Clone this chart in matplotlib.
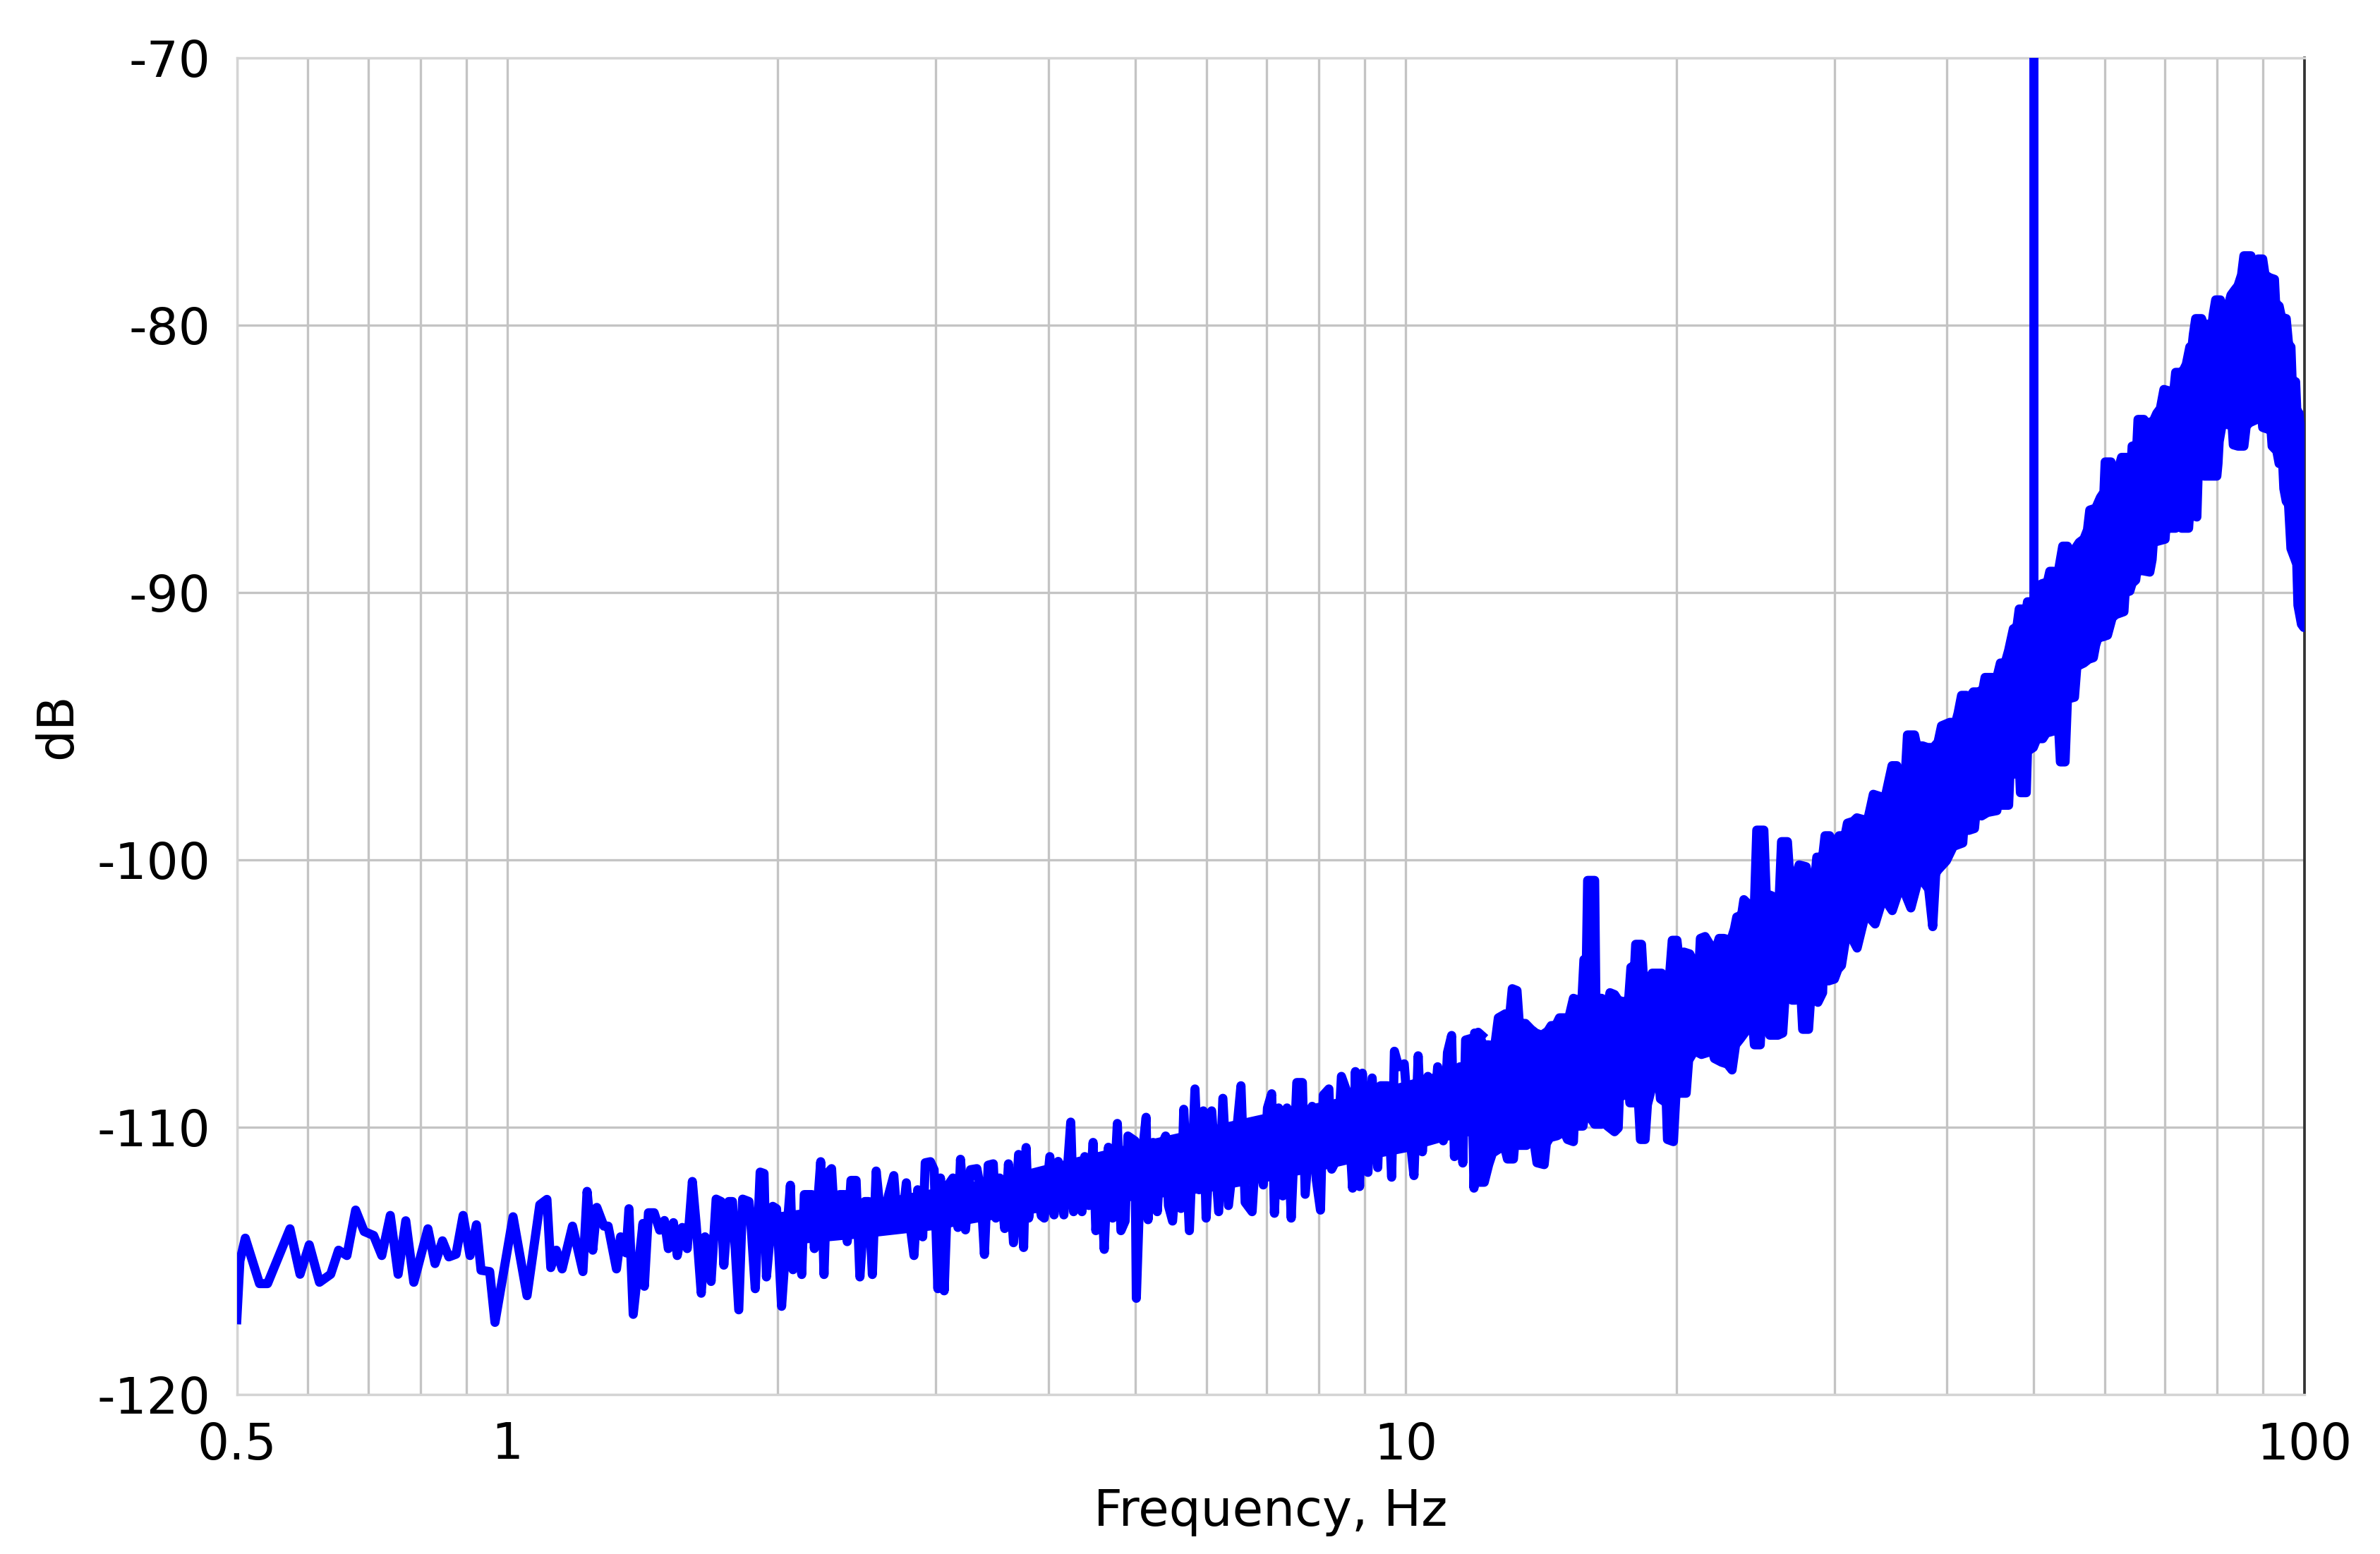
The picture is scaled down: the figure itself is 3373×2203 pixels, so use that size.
import numpy as np
import matplotlib
matplotlib.use("Agg")
import matplotlib.pyplot as plt

# ---------------- data ----------------
# low-frequency trace 0.5 - 1.5 Hz
trace_lo_freq = [0.500, 0.504, 0.511, 0.530, 0.541, 0.573, 0.588, 0.602, 0.618, 0.636,
                 0.649, 0.663, 0.678, 0.693, 0.710, 0.725, 0.741, 0.756, 0.771, 0.787,
                 0.816, 0.831, 0.847, 0.861, 0.877, 0.893, 0.909, 0.924, 0.935, 0.956,
                 0.969, 1.015, 1.052, 1.087, 1.107, 1.118, 1.134, 1.151, 1.182, 1.214,
                 1.227, 1.245, 1.258, 1.281, 1.295, 1.323, 1.337, 1.356, 1.366, 1.381,
                 1.416, 1.421, 1.436, 1.457, 1.478]
trace_lo_db = [-117.2, -115.0, -114.15, -115.85, -115.85, -113.8, -115.5, -114.4, -115.8, -115.5,
               -114.6, -114.8, -113.1, -113.9, -114.05, -114.8, -113.3, -115.5, -113.5, -115.8,
               -113.8, -115.1, -114.25, -114.85, -114.75, -113.3, -114.8, -113.65, -115.35, -115.4,
               -117.3, -113.35, -116.3, -112.9, -112.7, -115.25, -114.6, -115.3, -113.7, -115.4,
               -112.4, -114.6, -113.0, -113.7, -113.7, -115.3, -114.1, -114.7, -113.05, -117.0,
               -113.6, -115.95, -113.2, -113.2, -113.85]

# trace 1.5 - 4 Hz
trace_mid_freq = [1.496, 1.511, 1.531, 1.546, 1.566, 1.586, 1.607, 1.623, 1.644, 1.660,
                  1.676, 1.686, 1.708, 1.730, 1.742, 1.764, 1.781, 1.810, 1.828, 1.858,
                  1.870, 1.888, 1.912, 1.931, 1.943, 1.975, 1.994, 2.020, 2.047, 2.066,
                  2.080, 2.100, 2.127, 2.141, 2.183, 2.197, 2.233, 2.252, 2.270, 2.296,
                  2.314, 2.344, 2.374, 2.390, 2.413, 2.445, 2.469, 2.500, 2.525, 2.549,
                  2.574, 2.599, 2.624, 2.658, 2.693, 2.719, 2.746, 2.781, 2.799, 2.836,
                  2.863, 2.900, 2.919, 2.958, 2.986, 3.015, 3.035, 3.064, 3.094, 3.134,
                  3.174, 3.195, 3.236, 3.278, 3.332, 3.365, 3.397, 3.430, 3.475, 3.498,
                  3.532, 3.578, 3.613, 3.660, 3.708, 3.756, 3.780, 3.805, 3.842, 3.879,
                  3.930]
trace_mid_db = [-113.49, -114.54, -113.57, -114.80, -113.75, -114.54, -112.03, -113.66, -116.21, -114.10,
                -114.28, -115.77, -112.69, -112.78, -115.16, -112.78, -112.78, -116.83, -112.69, -112.78,
                -113.93, -116.04, -111.68, -111.73, -115.60, -112.96, -113.05, -116.70, -113.93, -112.17,
                -115.33, -113.31, -115.51, -112.52, -112.52, -114.54, -111.29, -115.51, -111.73, -111.55,
                -113.49, -112.52, -112.52, -114.28, -111.99, -111.99, -115.60, -112.78, -112.78, -115.51,
                -111.64, -113.05, -113.40, -112.52, -111.81, -113.66, -113.75, -112.08, -113.31, -114.80,
                -112.34, -114.10, -111.33, -111.29, -111.59, -116.04, -111.90, -116.12, -112.17, -111.90,
                -113.75, -111.20, -113.84, -111.59, -111.55, -112.34, -114.76, -111.42, -111.37, -113.40,
                -111.90, -113.79, -111.37, -114.32, -111.02, -114.50, -110.76, -113.40, -112.25, -112.21,
                -113.31]

# trace 4 - 12 Hz
trace_hi_freq = [3.960, 4.017, 4.061, 4.104, 4.164, 4.208, 4.238, 4.269, 4.315, 4.362,
                 4.393, 4.440, 4.488, 4.520, 4.569, 4.618, 4.668, 4.718, 4.776, 4.820,
                 4.872, 4.907, 4.996, 5.014, 5.068, 5.141, 5.167, 5.234, 5.290, 5.347,
                 5.405, 5.444, 5.502, 5.562, 5.622, 5.662, 5.744, 5.827, 5.889, 5.953,
                 5.996, 6.082, 6.192, 6.259, 6.349, 6.486, 6.556, 6.627, 6.746, 6.843,
                 6.942, 7.017, 7.093, 7.143, 7.220, 7.298, 7.377, 7.457, 7.565, 7.674,
                 7.729, 7.868, 7.953, 8.038, 8.096, 8.213, 8.272, 8.391, 8.481, 8.604,
                 8.728, 8.790, 8.885, 8.949, 9.078, 9.176, 9.308, 9.375, 9.543, 9.646,
                 9.715, 9.820, 9.962, 10.105, 10.214, 10.324, 10.436, 10.586, 10.700, 10.854,
                 11.011, 11.130, 11.249, 11.330, 11.493, 11.576, 11.659, 11.827, 11.912, 12.041,
                 12.153]
trace_hi_db = [-113.40, -111.10, -113.28, -111.28, -113.28, -111.28, -109.81, -113.16, -111.51, -113.16,
               -111.10, -112.93, -110.57, -113.87, -111.28, -114.57, -110.75, -113.40, -109.86, -113.87,
               -113.51, -110.33, -110.51, -116.40, -111.63, -109.63, -113.46, -110.57, -113.16, -110.69,
               -110.33, -112.93, -113.51, -111.39, -113.04, -109.33, -113.87, -108.57, -112.34, -109.39,
               -113.40, -109.39, -113.16, -108.92, -112.93, -110.10, -108.45, -112.81, -113.16, -109.75,
               -112.16, -109.28, -108.75, -113.22, -109.28, -112.57, -109.28, -113.40, -108.33, -108.33,
               -112.51, -109.22, -111.98, -113.10, -108.80, -108.57, -111.57, -111.16, -108.10, -108.69,
               -112.28, -107.92, -112.22, -107.98, -111.69, -108.16, -111.51, -108.45, -108.45, -111.87,
               -107.16, -107.74, -107.63, -110.33, -111.81, -107.33, -110.92, -108.10, -110.33, -107.74,
               -110.51, -107.21, -106.57, -111.10, -107.74, -111.34, -106.74, -106.68, -112.28, -106.45,
               -106.57]

# solid core of the noise band, 2 - 12 Hz
core_freq = [2.0, 2.5, 3.0, 3.5, 4.0, 5.0, 6.0, 7.0, 8.0, 9.0, 10.0, 11.0, 12.1]
core_top_db = [-113.2, -112.8, -112.3, -111.9, -111.4, -110.6, -110.0, -109.5, -109.1, -108.7, -108.3, -107.9, -107.4]
core_bottom_db = [-114.4, -114.1, -113.8, -113.4, -113.1, -112.7, -112.4, -112.0, -111.6, -111.2, -110.9, -110.5, -110.2]

# dense band 12 - 100 Hz: upper envelope
band_upper_freq = [11.93, 12.08, 12.19, 12.37, 12.56, 12.68, 12.91, 13.06, 13.14, 13.30,
                   13.38, 13.59, 13.79, 13.96, 14.17, 14.39, 14.52, 14.69, 14.83, 15.19,
                   15.37, 15.56, 15.70, 15.79, 15.89, 15.94, 16.23, 16.28, 16.52, 16.67,
                   16.88, 17.08, 17.24, 17.55, 17.71, 17.81, 17.98, 18.03, 18.30, 18.41,
                   18.64, 18.81, 19.03, 19.27, 19.38, 19.56, 19.68, 19.80, 20.04, 20.16,
                   20.40, 20.71, 20.90, 21.22, 21.28, 21.54, 21.80, 22.06, 22.33, 22.60,
                   23.01, 23.22, 23.36, 23.65, 23.79, 24.15, 24.44, 24.59, 25.04, 25.19,
                   25.57, 25.65, 26.04, 26.20, 26.60, 26.76, 27.16, 27.41, 27.91, 28.08,
                   28.51, 28.68, 29.11, 29.29, 29.64, 29.91,
                   30.37, 30.83, 31.02, 31.49, 31.78, 32.26, 32.65, 32.95, 33.15, 33.65,
                   34.16, 34.47, 34.78, 35.21, 35.31, 35.96, 36.18, 36.84, 37.06, 37.62,
                   38.08, 38.66, 39.13, 39.48, 40.33, 40.94, 41.19, 41.56, 42.07, 42.45,
                   42.83, 43.35, 43.88, 44.14, 44.81, 45.50, 45.91, 46.47, 46.89, 47.46,
                   47.89, 48.18, 48.62, 48.91, 49.21, 49.66, 50.71, 51.02, 51.79, 52.11,
                   52.58, 53.22, 53.86, 54.52, 54.85, 55.51, 56.19, 56.87, 57.39, 57.73,
                   58.61, 59.32, 59.86,
                   60.05, 60.96, 61.33, 61.70, 62.07, 62.63, 63.39, 63.78, 64.16, 64.35,
                   65.13, 65.33, 66.32, 66.72, 67.12, 67.94, 68.55, 69.18, 69.81, 70.87,
                   71.51, 71.94, 73.04, 73.48, 73.93, 74.60, 75.05, 75.28, 75.73, 76.88,
                   77.35, 78.99, 79.23, 79.71, 80.68, 80.92, 81.41, 82.40, 82.90, 83.65,
                   84.41, 85.18, 85.69, 87.26, 87.52, 88.31, 88.84, 89.92, 90.46, 91.56,
                   92.67, 92.95, 93.79, 94.36, 95.51, 96.08, 96.67, 96.96, 97.84, 98.13,
                   98.71, 99.31, 99.61, 99.91, 100.0]
band_upper_db = [-106.48, -106.56, -106.92, -106.92, -106.99, -105.91, -105.76, -105.76, -104.82, -104.89,
                 -106.12, -106.12, -106.34, -106.48, -106.56, -106.41, -106.20, -106.20, -105.91, -105.91,
                 -105.18, -105.25, -105.40, -103.73, -103.73, -100.77, -100.77, -105.18, -105.18, -105.91,
                 -104.97, -105.04, -105.25, -105.33, -105.18, -104.02, -103.95, -103.16, -103.16, -104.68,
                 -104.60, -104.24, -104.24, -104.24, -104.97, -104.75, -104.17, -103.01, -103.01, -103.81,
                 -103.45, -103.52, -103.81, -103.81, -102.94, -102.87, -103.16, -103.52, -102.94, -102.94,
                 -103.01, -102.58, -102.14, -102.07, -101.49, -101.71, -101.71, -98.89, -98.89, -101.27,
                 -101.35, -101.78, -101.49, -99.32, -99.32, -100.62, -100.62, -100.19, -100.26, -100.77,
                 -100.84, -99.90, -99.90, -99.10, -99.10, -99.47,
                 -99.10, -99.10, -98.63, -98.56, -98.43, -98.49, -98.56, -97.96, -97.55, -97.62,
                 -97.69, -97.08, -96.48, -96.48, -96.95, -96.95, -95.33, -95.33, -95.74, -95.74,
                 -95.80, -95.80, -95.60, -94.99, -94.86, -94.86, -94.52, -93.85, -93.85, -93.92,
                 -93.72, -93.72, -93.65, -93.18, -93.18, -93.18, -92.64, -92.64, -92.17, -91.36,
                 -91.29, -90.62, -90.62, -91.02, -90.35, -90.35, -90.08, -89.68, -89.61, -89.21,
                 -89.21, -89.28, -88.27, -88.27, -88.47, -88.40, -88.13, -88.00, -87.66, -86.92,
                 -86.85, -86.45, -86.25,
                 -85.12, -85.12, -86.42, -85.77, -85.42, -84.95, -84.95, -85.30, -85.30, -84.53,
                 -84.48, -83.53, -83.53, -83.95, -83.65, -83.59, -83.30, -83.12, -82.41, -82.47,
                 -82.65, -81.77, -81.77, -81.65, -81.47, -80.82, -80.77, -80.35, -79.76, -79.76,
                 -80.00, -79.94, -79.59, -79.06, -79.06, -79.41, -79.29, -79.23, -78.88, -78.70,
                 -78.53, -78.12, -77.41, -77.41, -78.23, -78.23, -77.53, -77.53, -78.12, -78.23,
                 -78.29, -79.18, -79.29, -79.71, -79.76, -80.71, -80.82, -82.06, -82.12, -83.18,
                 -83.30, -84.48, -84.48, -85.53, -85.65]

# dense band 12 - 100 Hz: lower envelope
band_lower_freq = [11.93, 12.08, 12.23, 12.37, 12.49, 12.68, 12.87, 12.98, 13.18, 13.30,
                   13.38, 13.63, 13.88, 14.00, 14.26, 14.34, 14.47, 14.74, 15.01, 15.14,
                   15.37, 15.42, 15.56, 15.75, 15.84, 16.03, 16.23, 16.52, 16.67, 16.77,
                   17.08, 17.24, 17.29, 17.50, 17.71, 17.76, 18.03, 18.14, 18.25, 18.47,
                   18.58, 18.86, 19.09, 19.21, 19.50, 19.56, 19.86, 20.04, 20.22, 20.52,
                   20.65, 20.96, 21.15, 21.34, 21.67, 21.80, 22.06, 22.47, 22.81, 23.08,
                   23.29, 23.57, 24.00, 24.37, 24.44, 24.81, 24.89, 25.27, 25.42, 25.96,
                   26.28, 26.44, 26.92, 27.16, 27.49, 27.66, 28.08, 28.25, 28.76, 29.11,
                   29.20, 29.55, 30.00, 30.27, 30.55,
                   31.0, 31.8, 32.5, 33.3, 34.0, 34.8, 35.6, 36.5, 37.3, 38.2, 38.6, 38.9,
                   39.13, 39.97, 40.69, 41.69, 41.81, 42.32, 42.96, 43.22, 43.75, 44.41,
                   45.50, 45.77, 46.05, 46.89, 47.03, 47.75, 48.18, 48.33, 49.06, 49.21,
                   49.95, 50.41, 51.17, 51.64, 52.42, 52.74, 53.22, 53.54, 54.19, 54.52,
                   55.51, 55.85, 56.87, 57.56, 58.26, 58.61, 58.96,
                   59.69, 60.41, 61.14, 61.70, 63.01, 63.20, 63.97, 64.35, 64.94, 65.13,
                   66.12, 67.33, 67.73, 67.94, 68.97, 70.02, 70.23, 70.87, 71.94, 72.38,
                   73.04, 74.37, 74.60, 75.05, 75.96, 76.19, 76.42, 77.35, 78.99, 79.95,
                   80.19, 80.43, 81.17, 81.90, 83.15, 83.40, 84.41, 85.69, 86.21, 86.99,
                   88.58, 89.11, 89.65, 89.92, 91.01, 91.84, 92.12, 93.23, 93.79, 94.65,
                   94.93, 95.51, 96.08, 96.67, 97.55, 98.13, 98.42, 99.31, 99.91]
band_lower_db = [-110.32, -112.06, -112.06, -111.40, -110.97, -110.83, -110.68, -111.19, -111.19, -109.60,
                 -110.68, -110.68, -110.46, -111.33, -111.40, -110.61, -110.39, -110.32, -110.17, -110.46,
                 -110.54, -109.45, -109.96, -109.96, -109.45, -109.60, -109.89, -109.89, -109.52, -109.96,
                 -110.17, -110.03, -108.87, -108.80, -108.44, -109.09, -109.09, -108.80, -110.46, -110.46,
                 -109.16, -108.29, -107.93, -108.94, -109.09, -110.46, -110.54, -108.08, -108.73, -108.73,
                 -107.50, -107.14, -107.21, -107.28, -107.21, -106.77, -107.43, -107.57, -107.64, -107.86,
                 -106.92, -106.70, -106.34, -106.41, -106.92, -106.92, -105.91, -105.76, -106.56, -106.56,
                 -106.48, -105.11, -105.25, -105.25, -104.60, -106.34, -106.34, -105.04, -105.33, -104.97,
                 -103.37, -104.53, -104.46, -104.10, -103.95,
                 -102.6, -103.3, -102.0, -102.4, -101.4, -101.9, -100.9, -101.8, -100.6, -101.1, -102.5, -100.5,
                 -100.38, -100.04, -99.50, -99.37, -98.76, -98.90, -98.83, -97.89, -98.36, -98.23,
                 -98.16, -97.28, -97.96, -97.96, -96.88, -96.74, -96.41, -97.49, -97.49, -95.94,
                 -95.80, -95.47, -95.47, -95.26, -95.20, -94.39, -94.66, -96.34, -96.34, -93.99,
                 -93.92, -92.77, -92.64, -92.50, -92.44, -91.97, -91.70,
                 -91.66, -91.60, -90.95, -90.83, -90.72, -90.01, -89.95, -89.66, -89.54, -89.19,
                 -89.19, -89.24, -88.77, -88.13, -88.07, -88.01, -87.36, -87.60, -87.60, -86.65,
                 -87.60, -87.60, -86.89, -87.12, -87.18, -85.71, -85.36, -85.65, -85.65, -85.65,
                 -85.18, -84.36, -83.59, -83.71, -83.77, -84.48, -84.53, -84.53, -83.77, -83.65,
                 -83.53, -83.30, -83.30, -83.83, -83.89, -83.89, -84.53, -84.71, -85.18, -85.18,
                 -86.12, -86.59, -86.71, -88.36, -88.71, -88.95, -90.48, -91.19, -91.31]

# 50 Hz line (top clipped by the axes)
spike_freq = [50.0, 50.0]
spike_db = [-90.3, -66.0]

x_ticks = [0.5, 1, 10, 100]
x_tick_labels = ["0.5", "1", "10", "100"]
y_ticks = [-120, -110, -100, -90, -80, -70]
y_tick_labels = ["-120", "-110", "-100", "-90", "-80", "-70"]

# ---------------- figure ----------------
BLUE = "#0000ff"
LW = 3.1
W, H, DPI = 3373, 2203, 300
fig = plt.figure(figsize=(W / DPI, H / DPI), dpi=DPI)
ax = fig.add_axes([335.6 / W, 1 - 1977 / H, (3265.5 - 335.6) / W, (1977 - 81.7) / H])

ax.set_xscale("log")
ax.set_xlim(0.5, 100)
ax.set_ylim(-120, -70)

minor_locs = [0.6, 0.7, 0.8, 0.9] + list(range(2, 10)) + list(range(20, 100, 10))
ax.set_xticks(x_ticks)
ax.set_xticklabels(x_tick_labels)
ax.set_xticks(minor_locs, minor=True)
ax.set_xticklabels([""] * len(minor_locs), minor=True)
ax.set_yticks(y_ticks)
ax.set_yticklabels(y_tick_labels)

ax.set_axisbelow(True)
ax.grid(True, which="both", color="#c4c4c4", linewidth=0.8)
ax.tick_params(which="both", length=0, labelsize=17, pad=9)

for side in ("top", "left", "bottom"):
    ax.spines[side].set_color("#d4d4d4")
    ax.spines[side].set_linewidth(0.8)
ax.spines["right"].set_color("#333333")
ax.spines["right"].set_linewidth(0.9)

# solid core of the band 2 - 12 Hz
ax.fill_between(core_freq, core_bottom_db, core_top_db, facecolor=BLUE,
                edgecolor=BLUE, linewidth=0.5, zorder=3)

# trace 0.5 - 12 Hz
trace_f = np.array(trace_lo_freq + trace_mid_freq + trace_hi_freq)
trace_d = np.array(trace_lo_db + trace_mid_db + trace_hi_db)
ax.plot(trace_f, trace_d, color=BLUE, linewidth=LW, solid_joinstyle="round", zorder=3)

# dense band 12 - 100 Hz
poly_f = np.concatenate([band_upper_freq, band_lower_freq[::-1]])
poly_d = np.concatenate([band_upper_db, band_lower_db[::-1]])
ax.fill(poly_f, poly_d, facecolor=BLUE, edgecolor=BLUE, linewidth=LW,
        joinstyle="round", zorder=3)

ax.plot(spike_freq, spike_db, color=BLUE, linewidth=LW, zorder=3)

ax.set_xlabel("Frequency, Hz", fontsize=17, labelpad=6)
ax.set_ylabel("dB", fontsize=17, labelpad=5)

fig.savefig("out.png", dpi=DPI)
